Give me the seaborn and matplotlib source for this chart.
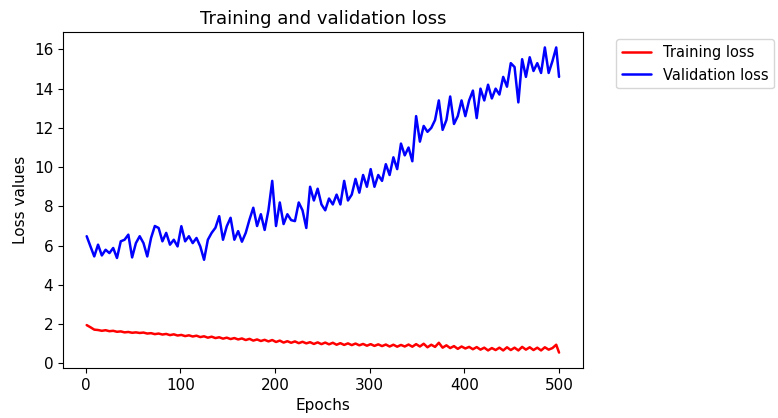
import pandas as pd
import numpy as np
import matplotlib
matplotlib.use("Agg")
import matplotlib.pyplot as plt
import seaborn as sns

epochs = list(range(1, 501, 4)) + [500]

training_loss = [
    1.95, 1.84, 1.72, 1.70, 1.66, 1.69, 1.64, 1.66, 1.61, 1.63,
    1.58, 1.60, 1.56, 1.58, 1.55, 1.57, 1.52, 1.54, 1.49, 1.52,
    1.47, 1.50, 1.44, 1.48, 1.42, 1.45, 1.39, 1.43, 1.37, 1.41,
    1.34, 1.38, 1.31, 1.36, 1.29, 1.33, 1.26, 1.31, 1.24, 1.29,
    1.22, 1.27, 1.19, 1.25, 1.16, 1.22, 1.14, 1.20, 1.12, 1.19,
    1.09, 1.16, 1.06, 1.13, 1.05, 1.12, 1.03, 1.10, 1.02, 1.08,
    0.99, 1.07, 0.98, 1.06, 0.97, 1.05, 0.95, 1.03, 0.94, 1.02,
    0.93, 1.01, 0.92, 0.99, 0.90, 0.98, 0.89, 0.97, 0.88, 0.96,
    0.86, 0.95, 0.85, 0.94, 0.86, 0.96, 0.85, 0.98, 0.86, 1.00,
    0.82, 0.95, 0.84, 1.05, 0.80, 0.92, 0.78, 0.88, 0.74, 0.86,
    0.76, 0.84, 0.72, 0.83, 0.70, 0.80, 0.66, 0.78, 0.68, 0.80,
    0.66, 0.82, 0.68, 0.80, 0.66, 0.84, 0.70, 0.82, 0.68, 0.80,
    0.66, 0.82, 0.70, 0.78, 0.95, 0.55,
]

validation_loss = [
    6.48, 5.96, 5.45, 6.05, 5.50, 5.79, 5.62, 5.88, 5.37, 6.22,
    6.30, 6.56, 5.40, 6.13, 6.48, 6.13, 5.45, 6.39, 7.00, 6.90,
    6.22, 6.65, 6.05, 6.30, 5.96, 6.99, 6.22, 6.48, 6.13, 6.39,
    5.96, 5.28, 6.30, 6.65, 6.91, 7.50, 6.30, 6.99, 7.42, 6.30,
    6.74, 6.20, 6.65, 7.33, 7.93, 7.00, 7.60, 6.80, 7.80, 9.30,
    7.00, 8.20, 7.10, 7.60, 7.30, 7.25, 8.20, 7.80, 6.90, 9.00,
    8.30, 8.90, 8.10, 7.80, 8.40, 8.10, 8.60, 8.10, 9.30, 8.30,
    8.60, 9.40, 8.70, 9.60, 9.00, 9.90, 9.00, 9.60, 9.30, 10.15,
    9.60, 10.50, 9.90, 11.20, 10.60, 11.00, 10.30, 12.60, 11.30, 12.10,
    11.80, 12.00, 12.40, 13.40, 11.90, 12.40, 13.60, 12.20, 12.60, 13.40,
    12.60, 13.40, 13.90, 12.50, 14.00, 13.40, 14.20, 13.50, 14.00, 13.70,
    14.60, 14.10, 15.30, 15.10, 13.30, 15.50, 14.60, 15.60, 14.90, 15.30,
    14.80, 16.10, 14.80, 15.40, 16.10, 14.60,
]

df = pd.DataFrame({
    "Epochs": epochs * 2,
    "Loss values": training_loss + validation_loss,
    "serie": ["Training loss"] * len(epochs) + ["Validation loss"] * len(epochs),
})

sns.set_style("ticks", {"axes.edgecolor": "black", "text.color": "black",
                        "axes.labelcolor": "black", "xtick.color": "black",
                        "ytick.color": "black"})
plt.rcParams["font.family"] = ["DejaVu Sans"]

fig, ax = plt.subplots(figsize=(7.78, 4.18), dpi=100)
sns.lineplot(data=df, x="Epochs", y="Loss values", hue="serie",
             palette={"Training loss": "red", "Validation loss": "blue"},
             estimator=None, sort=False, linewidth=1.8, ax=ax)

ax.set_title("Training and validation loss", fontsize=13)
ax.set_xlabel("Epochs", fontsize=11)
ax.set_ylabel("Loss values", fontsize=11)
ax.set_xlim(-24, 525)
ax.set_xticks([0, 100, 200, 300, 400, 500])
ax.set_yticks([0, 2, 4, 6, 8, 10, 12, 14, 16])
ax.tick_params(labelsize=11)
ax.legend(loc="upper left", bbox_to_anchor=(1.05, 1), fontsize=10.5)

fig.subplots_adjust(left=0.081, right=0.749, top=0.923, bottom=0.12)
fig.savefig("out.png", dpi=100)
